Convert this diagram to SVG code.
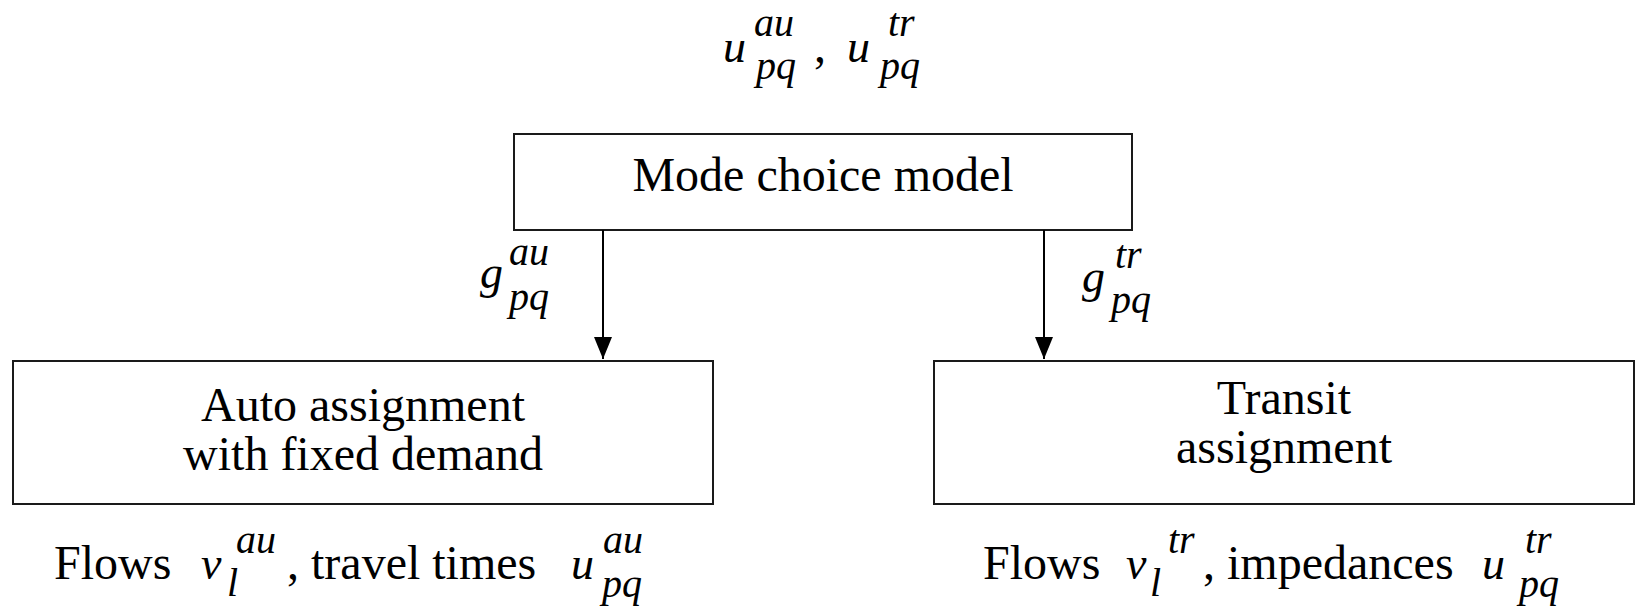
<svg xmlns="http://www.w3.org/2000/svg" width="1637" height="607" viewBox="0 0 1637 607">
  <style>
    .box { fill: #ffffff; stroke: #1a1a1a; stroke-width: 2; }
    .lbl { font-family: "Liberation Serif", "Times New Roman", serif; font-size: 48px; fill: #000; }
    .mid { text-anchor: middle; }
    .m { font-family: "Liberation Serif", "Times New Roman", serif; font-style: italic; font-size: 46px; fill: #000; }
    .s { font-size: 40px; }
    .edge { stroke: #000; stroke-width: 2; fill: none; }
  </style>
  <defs>
    <marker id="arrow" markerUnits="userSpaceOnUse" markerWidth="22" markerHeight="18" refX="22" refY="9" orient="auto">
      <path d="M0,0 L22,9 L0,18 Z" fill="#000"/>
    </marker>
  </defs>

  <rect width="1637" height="607" fill="#ffffff"/>

  <!-- utilities fed into the mode choice model -->
  <g id="utilities">
    <text class="m" x="723" y="62">u<tspan class="s" x="754" y="36">au</tspan><tspan class="s" x="756" y="79">pq</tspan></text>
    <text class="lbl" x="814" y="62">,</text>
    <text class="m" x="847" y="62">u<tspan class="s" x="888" y="36">tr</tspan><tspan class="s" x="880" y="79">pq</tspan></text>
  </g>

  <g id="mode-choice">
    <rect class="box" x="514" y="134" width="618" height="96"/>
    <text class="lbl mid" x="823" y="191">Mode choice model</text>
  </g>

  <g id="auto-assignment">
    <rect class="box" x="13" y="361" width="700" height="143"/>
    <text class="lbl mid" x="363" y="421">Auto assignment</text>
    <text class="lbl mid" x="363" y="470">with fixed demand</text>
  </g>

  <g id="transit-assignment">
    <rect class="box" x="934" y="361" width="700" height="143"/>
    <text class="lbl mid" x="1284" y="414">Transit</text>
    <text class="lbl mid" x="1284" y="463">assignment</text>
  </g>

  <!-- demand split between the two assignments -->
  <g id="connectors">
    <line class="edge" x1="603" y1="230" x2="603" y2="359" marker-end="url(#arrow)"/>
    <line class="edge" x1="1044" y1="230" x2="1044" y2="359" marker-end="url(#arrow)"/>
  </g>

  <g id="demand-auto">
    <text class="m" x="480" y="288">g<tspan class="s" x="509" y="265">au</tspan><tspan class="s" x="509" y="310">pq</tspan></text>
  </g>

  <g id="demand-transit">
    <text class="m" x="1082" y="292">g<tspan class="s" x="1115" y="268">tr</tspan><tspan class="s" x="1111" y="313">pq</tspan></text>
  </g>

  <!-- assignment outputs -->
  <g id="auto-output">
    <text class="lbl" x="54" y="579">Flows</text>
    <text class="m" x="201" y="579">v<tspan class="s" x="236" y="553">au</tspan><tspan class="s" x="227" y="596">l</tspan></text>
    <text class="lbl" x="287" y="579">, travel times</text>
    <text class="m" x="571" y="579">u<tspan class="s" x="603" y="553">au</tspan><tspan class="s" x="602" y="597">pq</tspan></text>
  </g>

  <g id="transit-output">
    <text class="lbl" x="983" y="579">Flows</text>
    <text class="m" x="1126" y="579">v<tspan class="s" x="1168" y="553">tr</tspan><tspan class="s" x="1150" y="596">l</tspan></text>
    <text class="lbl" x="1203" y="579">, impedances</text>
    <text class="m" x="1482" y="579">u<tspan class="s" x="1525" y="553">tr</tspan><tspan class="s" x="1519" y="597">pq</tspan></text>
  </g>
</svg>
